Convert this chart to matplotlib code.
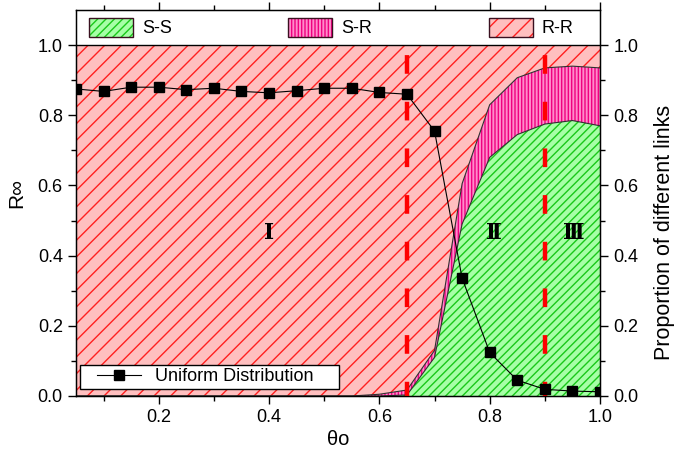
import matplotlib
matplotlib.use("Agg")
import matplotlib.pyplot as plt
from matplotlib.patches import Patch
from matplotlib.legend_handler import HandlerTuple, HandlerLine2D
from matplotlib.ticker import MultipleLocator

plt.rcParams['font.family'] = ['Liberation Sans', 'DejaVu Sans']
plt.rcParams['hatch.linewidth'] = 1.0

# threshold values
theta = [0.05, 0.10, 0.15, 0.20, 0.25, 0.30, 0.35, 0.40, 0.45, 0.50,
         0.55, 0.60, 0.65, 0.70, 0.75, 0.80, 0.85, 0.90, 0.95, 1.00]

# final infected density, uniform distribution
r_inf = [0.875, 0.868, 0.880, 0.880, 0.873, 0.877, 0.868, 0.864, 0.870, 0.877,
         0.877, 0.865, 0.860, 0.755, 0.336, 0.124, 0.045, 0.019, 0.014, 0.012]

# proportions of link types
frac_ss = [0, 0, 0, 0, 0, 0, 0, 0, 0, 0,
           0, 0, 0.003, 0.110, 0.490, 0.680, 0.745, 0.775, 0.785, 0.770]
frac_sr = [0, 0, 0, 0, 0, 0, 0, 0, 0, 0,
           0, 0.005, 0.014, 0.020, 0.115, 0.150, 0.162, 0.160, 0.155, 0.165]

regions = ["Ⅰ", "Ⅱ", "Ⅲ"]
region_x = [0.40, 0.808, 0.953]
boundaries = [0.65, 0.90]

top_ss = frac_ss
top_sr = [a + b for a, b in zip(frac_ss, frac_sr)]

fig = plt.figure(figsize=(6.74, 4.5), dpi=100)
ax = fig.add_axes([76 / 674, 54 / 450, 524 / 674, 386 / 450])

styles = {
    'S-S': dict(face='#A6FFA6', hatch_col='#19C819', hatch='////'),
    'S-R': dict(face='#FF8CCB', hatch_col='#F00080', hatch='|||||'),
    'R-R': dict(face='#FFBFBF', hatch_col='#FF2020', hatch='//'),
}

# stacked link proportions
ax.fill_between(theta, 0, top_ss, facecolor=styles['S-S']['face'],
                edgecolor=styles['S-S']['hatch_col'], hatch=styles['S-S']['hatch'],
                linewidth=0, zorder=1)
ax.fill_between(theta, top_ss, top_sr, facecolor=styles['S-R']['face'],
                edgecolor=styles['S-R']['hatch_col'], hatch=styles['S-R']['hatch'],
                linewidth=0, zorder=1)
ax.fill_between(theta, top_sr, 1.0, facecolor=styles['R-R']['face'],
                edgecolor=styles['R-R']['hatch_col'], hatch=styles['R-R']['hatch'],
                linewidth=0, zorder=1)
ax.plot(theta, top_ss, color='#303030', lw=0.8, zorder=2)
ax.plot(theta, top_sr, color='#303030', lw=0.8, zorder=2)
ax.axhline(1.0, color='black', lw=1.0, zorder=2)

# phase boundaries
for b in boundaries:
    ax.plot([b, b], [0, 1.0], color='#FF0000', lw=3.2,
            linestyle=(1.0, (4.2, 6.3)), zorder=3, solid_capstyle='butt')

line, = ax.plot(theta, r_inf, color='black', lw=0.8, marker='s', markersize=6.5,
                markerfacecolor='black', markeredgecolor='black', zorder=4)

for lab, xr in zip(regions, region_x):
    ax.text(xr, 0.465, lab, ha='center', va='center', fontsize=15.5, fontweight='bold',
            family=['DejaVu Serif', 'Noto Sans CJK SC'], zorder=5)

ax.set_xlim(0.05, 1.0)
ax.set_ylim(0, 1.1)
ax.set_xticks([0.2, 0.4, 0.6, 0.8, 1.0])
ax.set_xticklabels(['0.2', '0.4', '0.6', '0.8', '1.0'])
ax.xaxis.set_minor_locator(MultipleLocator(0.1))
ax.set_yticks([0, 0.2, 0.4, 0.6, 0.8, 1.0])
ax.set_yticklabels(['0.0', '0.2', '0.4', '0.6', '0.8', '1.0'])
ax.set_yticks([0.1, 0.3, 0.5, 0.7, 0.9], minor=True)
ax.tick_params(which='major', direction='out', length=6, width=1, labelsize=13)
ax.tick_params(which='minor', direction='out', length=3.5, width=1)
ax.tick_params(axis='x', which='both', top=True)
for s in ax.spines.values():
    s.set_linewidth(1.0)

ax.set_xlabel('θo', fontsize=14.5, labelpad=3)
ax.set_ylabel('R∞', fontsize=15, labelpad=8)
ax.yaxis.label.set_y(0.526)

ax2 = ax.twinx()
ax2.set_ylim(0, 1.1)
ax2.set_yticks([0, 0.2, 0.4, 0.6, 0.8, 1.0])
ax2.set_yticklabels(['0.0', '0.2', '0.4', '0.6', '0.8', '1.0'])
ax2.set_yticks([0.1, 0.3, 0.5, 0.7, 0.9], minor=True)
ax2.tick_params(which='major', direction='out', length=6, width=1, labelsize=13)
ax2.tick_params(which='minor', direction='out', length=3.5, width=1)
ax2.set_ylabel('Proportion of different links', fontsize=15.5, labelpad=11)
ax2.yaxis.label.set_y(0.425)

# legend for the link types, in the band above 1.0
handles = []
for key in ['S-S', 'S-R', 'R-R']:
    st = styles[key]
    h_fill = Patch(facecolor=st['face'], edgecolor=st['hatch_col'], hatch=st['hatch'], lw=0)
    h_edge = Patch(facecolor='none', edgecolor='#3a1020', lw=1.0)
    handles.append((h_fill, h_edge))
leg1 = ax.legend(handles, ['S-S', 'S-R', 'R-R'], ncol=3, loc='center',
                 bbox_to_anchor=(0.487, 1.05 / 1.1), frameon=False, fontsize=13,
                 handlelength=2.45, handleheight=1.25, handletextpad=0.5,
                 columnspacing=6.45, borderaxespad=0,
                 handler_map={tuple: HandlerTuple(ndivide=1, pad=0)})
ax.add_artist(leg1)

leg2 = ax.legend([line], ['Uniform Distribution'], loc='lower left',
                 bbox_to_anchor=(4 / 524, 7 / 386, 259 / 524, 26 / 386), mode='expand',
                 borderaxespad=0, fontsize=13,
                 frameon=True, fancybox=False, framealpha=1, edgecolor='black',
                 handlelength=3.2, handletextpad=0.75, borderpad=0.2,
                 handler_map={line: HandlerLine2D(xpad=0.72)})
leg2.get_frame().set_linewidth(1.0)
leg2.set_zorder(6)

fig.savefig('out.png', dpi=100)
